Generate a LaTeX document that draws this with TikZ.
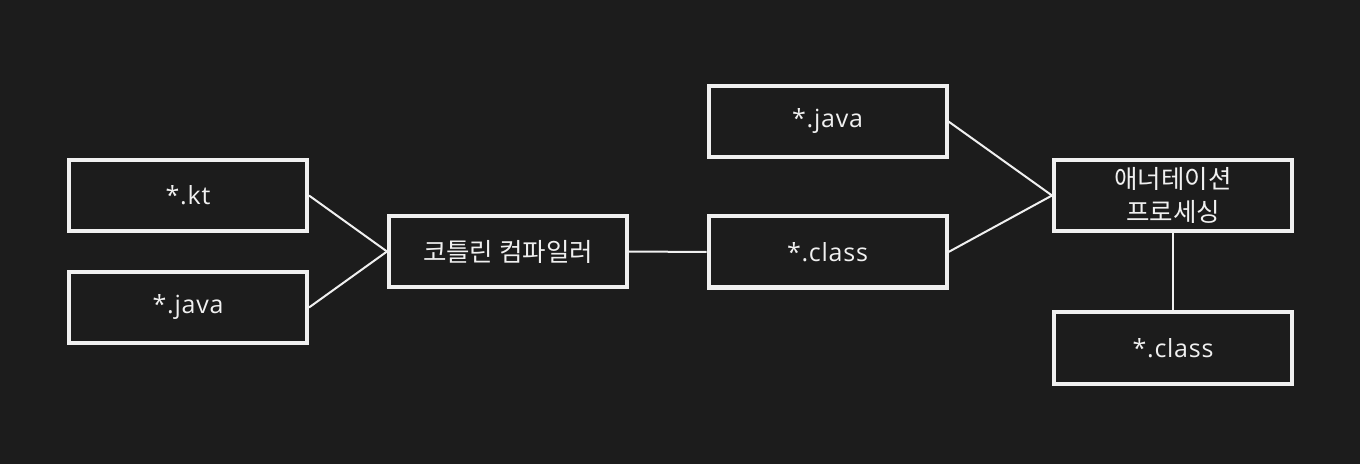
\documentclass[tikz,border=0pt]{standalone}
\usepackage{fontspec}
\setmainfont{Noto Sans CJK KR}
\newfontfamily\latfont{Open Sans}[LetterSpace=3]
\definecolor{bg}{RGB}{28,28,28}
\definecolor{fg}{RGB}{240,240,240}
\begin{document}
\begin{tikzpicture}[x=1bp,y=-1bp,
  box/.style={draw=fg,line width=4bp,fill=bg,text=fg,minimum width=238bp,minimum height=71bp,inner sep=0pt,align=center},
  kr/.style={box,font=\fontsize{25.5bp}{32.5bp}\selectfont},
  lt/.style={box,font=\latfont\fontsize{25bp}{30bp}\selectfont},
  conn/.style={draw=fg,line width=2bp}]
\fill[bg] (0,0) rectangle (1360,464);
\useasboundingbox (0,0) rectangle (1360,464);
\node[lt] (kt) at (188,195.5) {*.kt};
\node[lt] (javaL) at (188,307.5) {*.java};
\node[kr] (kc) at (508,251.5) {코틀린 컴파일러};
\node[lt] (javaR) at (827.5,121.5) {*.java};
\node[lt] (classM) at (827.5,252) {*.class};
\node[kr] (ap) at (1173,195.5) {애너테이션\\프로세싱};
\node[lt] (classB) at (1173,348) {*.class};
\draw[conn] (kt.east) -- (kc.west);
\draw[conn] (javaL.east) -- (kc.west);
\draw[conn] (kc.east) -- (classM.west);
\draw[conn] (javaR.east) -- (ap.west);
\draw[conn] (classM.east) -- (ap.west);
\draw[conn] (ap.south) -- (classB.north);
\end{tikzpicture}
\end{document}
